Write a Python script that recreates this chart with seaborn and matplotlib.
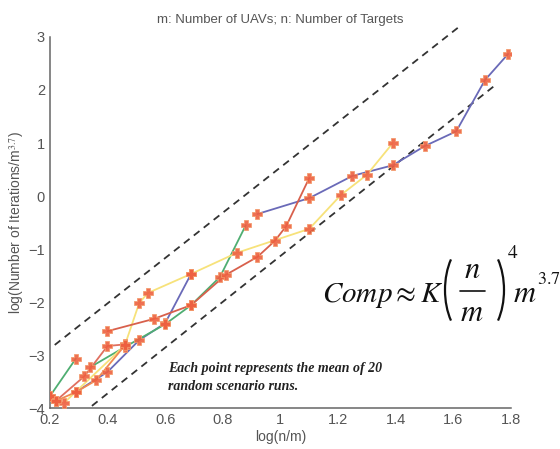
import numpy as np
import pandas as pd
import matplotlib
matplotlib.use("Agg")
import matplotlib.pyplot as plt
from matplotlib.patches import Arc
from matplotlib.lines import Line2D
import seaborn as sns

# series (log(n/m), log(iterations/m^3.7))
blue_a_x = [0.29, 0.40, 0.51, 0.60, 0.69]
blue_a_y = [-3.70, -3.32, -2.72, -2.40, -1.47]
blue_b_x = [0.92, 1.10, 1.25, 1.39, 1.50, 1.61, 1.71, 1.79]
blue_b_y = [-0.34, -0.04, 0.38, 0.58, 0.94, 1.22, 2.19, 2.68]
green_a_x = [0.20, 0.29]
green_a_y = [-3.78, -3.07]
green_b_x = [0.34, 0.46, 0.60, 0.69, 0.79, 0.88]
green_b_y = [-3.23, -2.85, -2.42, -2.06, -1.53, -0.55]
yellow_x = [0.25, 0.46, 0.51, 0.54, 0.69, 0.85, 1.10, 1.21, 1.30, 1.39]
yellow_y = [-3.90, -2.82, -2.02, -1.83, -1.47, -1.07, -0.62, 0.02, 0.40, 1.00]
salmon_x = [0.20, 0.22, 0.32, 0.40, 0.46]
salmon_y = [-3.78, -3.87, -3.40, -2.83, -2.80]
orange_x = [0.22, 0.29, 0.36, 0.46]
orange_y = [-3.87, -3.70, -3.48, -2.82]
red_x = [0.40, 0.56, 0.69, 0.81, 0.92, 0.98, 1.02, 1.10]
red_y = [-2.55, -2.32, -2.06, -1.49, -1.15, -0.85, -0.57, 0.34]

# dashed bounding lines (end points)
upper_x = [0.217, 1.624]
upper_y = [-2.81, 3.21]
lower_x = [0.346, 1.745]
lower_y = [-3.96, 2.09]

series = {
    "blue_a": (blue_a_x, blue_a_y),
    "blue_b": (blue_b_x, blue_b_y),
    "green_a": (green_a_x, green_a_y),
    "green_b": (green_b_x, green_b_y),
    "yellow": (yellow_x, yellow_y),
    "salmon": (salmon_x, salmon_y),
    "orange": (orange_x, orange_y),
    "red": (red_x, red_y),
}
palette = {
    "blue_a": "#6a6ab8", "blue_b": "#6a6ab8",
    "green_a": "#4fae72", "green_b": "#4fae72",
    "yellow": "#f7e27a",
    "salmon": "#e07060", "orange": "#f08a50",
    "red": "#d8604c",
}

rows = []
for name, (xs, ys) in series.items():
    for i, (xv, yv) in enumerate(zip(xs, ys)):
        rows.append({"series": name, "order": i, "x": xv, "y": yv})
df = pd.DataFrame(rows)

sns.set_style("white")
plt.rcParams["font.family"] = ["Liberation Sans", "DejaVu Sans"]
plt.rcParams["mathtext.fontset"] = "stix"

W, H = 560, 449
fig = plt.figure(figsize=(W / 100, H / 100), dpi=100)
ax = fig.add_axes([0.089, 0.0913, 0.8235, 0.8263])

for xs, ys in [(upper_x, upper_y), (lower_x, lower_y)]:
    ax.plot(xs, ys, color="#333333", ls=(0, (4, 3)), lw=1.3, clip_on=False, zorder=1)

sns.lineplot(data=df, x="x", y="y", hue="series", units="series", estimator=None,
             sort=False, palette=palette, lw=1.3, legend=False, ax=ax, zorder=2)
sns.scatterplot(data=df, x="x", y="y", marker="P", s=45, color="#ee6040",
                edgecolor="#f39a6a", linewidth=0.6, alpha=0.9, legend=False, ax=ax, zorder=3)

ax.set_xlim(0.2, 1.8)
ax.set_ylim(-4, 3)
ax.set_xticks(np.arange(0.2, 1.81, 0.2))
ax.set_xticklabels(["0.2", "0.4", "0.6", "0.8", "1", "1.2", "1.4", "1.6", "1.8"])
ax.set_yticks(range(-4, 4))
ax.tick_params(direction="in", length=4, colors="#666666", labelcolor="#555555", labelsize=10.5)
for side in ["top", "right"]:
    ax.spines[side].set_visible(False)
for side in ["left", "bottom"]:
    ax.spines[side].set_color("#666666")
    ax.spines[side].set_linewidth(1.1)

ax.set_xlabel("log(n/m)", color="#555555", fontsize=10, labelpad=2)
ax.set_ylabel(r"log(Number of Iterations/m$^{3.7}$)", color="#555555", fontsize=10, labelpad=2)
fig.text(0.5, 0.955, "m: Number of UAVs; n: Number of Targets", ha="center", va="center",
         color="#555555", fontsize=9.5)

# formula, built from pieces in pixel positions
def px(x, y):
    return x / W, 1 - y / H

ink = "#111111"
fig.text(*px(322, 302), r"$Comp \approx K$", fontsize=21, ha="left", va="baseline", color=ink)
fig.text(*px(472, 270), r"$n$", fontsize=22, ha="center", va="center", color=ink)
fig.text(*px(472, 313), r"$m$", fontsize=22, ha="center", va="center", color=ink)
fig.add_artist(Line2D([460 / W, 485 / W], [1 - 291 / H] * 2, color=ink, lw=1.2))
fig.add_artist(Arc(px(473, 290), 56 / W, 99 / H, theta1=120, theta2=240,
                   transform=fig.transFigure, color=ink, lw=1.6))
fig.add_artist(Arc(px(476, 290), 56 / W, 99 / H, theta1=-60, theta2=60,
                   transform=fig.transFigure, color=ink, lw=1.6))
fig.text(*px(507, 253), r"$4$", fontsize=14, ha="left", va="center", color=ink)
fig.text(*px(513, 302), r"$m$", fontsize=22, ha="left", va="baseline", color=ink)
fig.text(*px(537, 279), r"$3.7$", fontsize=13, ha="left", va="center", color=ink)

ax.text(0.61, -3.13, "Each point represents the mean of 20\nrandom scenario runs.",
        family="Liberation Serif", style="italic", weight="bold", fontsize=10,
        ha="left", va="top", color="#222222", linespacing=1.5)

fig.savefig("out.png", dpi=100)
